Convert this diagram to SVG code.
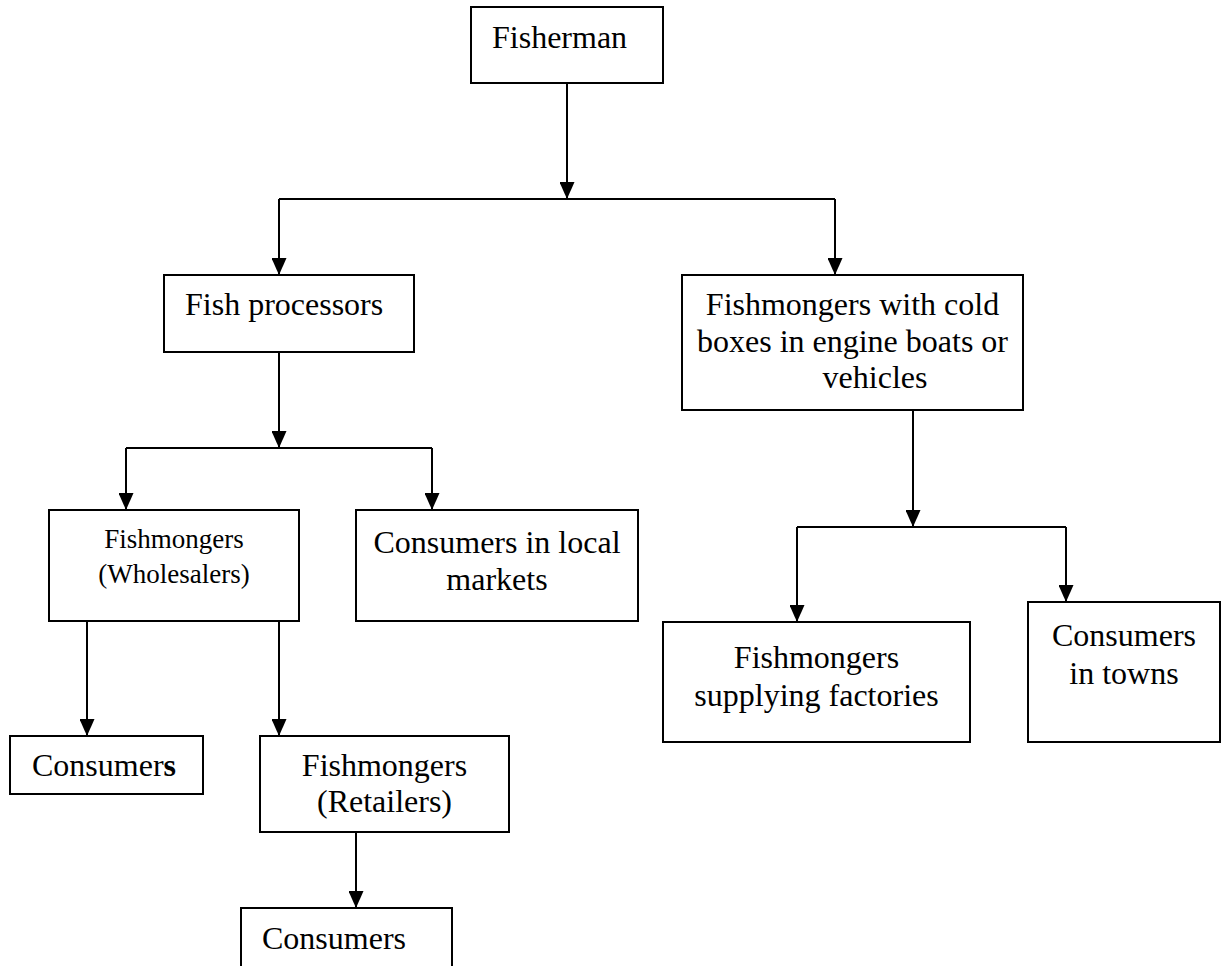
<svg xmlns="http://www.w3.org/2000/svg" width="1222" height="966" viewBox="0 0 1222 966">
  <style>
    .box { fill: #ffffff; stroke: #000000; stroke-width: 2; }
    .lbl { font-family: "Liberation Serif", "Times New Roman", serif; font-size: 32px; fill: #000000; }
    .sm { font-size: 27px; }
    .mid { text-anchor: middle; }
    .wire { fill: none; stroke: #000000; stroke-width: 2; }
    .arr { marker-end: url(#head); }
  </style>
  <defs>
    <marker id="head" viewBox="0 0 17 15" refX="17" refY="7.5" markerWidth="17" markerHeight="15" markerUnits="userSpaceOnUse" orient="auto">
      <path d="M0,0 L17,7.5 L0,15 z" fill="#000000"/>
    </marker>
  </defs>

  <!-- connectors -->
  <g id="connectors">
    <path class="wire arr" d="M567,83 V199"/>
    <path class="wire" d="M279,199 H835"/>
    <path class="wire arr" d="M279,199 V275"/>
    <path class="wire arr" d="M835,199 V275"/>

    <path class="wire arr" d="M279,352 V448"/>
    <path class="wire" d="M126,448 H432"/>
    <path class="wire arr" d="M126,448 V510"/>
    <path class="wire arr" d="M432,448 V510"/>

    <path class="wire arr" d="M913,410 V527"/>
    <path class="wire" d="M797,527 H1066"/>
    <path class="wire arr" d="M797,527 V622"/>
    <path class="wire arr" d="M1066,527 V602"/>

    <path class="wire arr" d="M87,621 V736"/>
    <path class="wire arr" d="M279,621 V736"/>

    <path class="wire arr" d="M356,832 V908"/>
  </g>

  <!-- nodes -->
  <g id="fisherman">
    <rect class="box" x="471" y="7" width="192" height="76"/>
    <text class="lbl" x="492" y="48">Fisherman</text>
  </g>

  <g id="fish-processors">
    <rect class="box" x="164" y="275" width="250" height="77"/>
    <text class="lbl" x="185" y="315">Fish processors</text>
  </g>

  <g id="cold-box-fishmongers">
    <rect class="box" x="682" y="275" width="341" height="135"/>
    <text class="lbl mid" x="852.5" y="315">Fishmongers with cold</text>
    <text class="lbl mid" x="852.5" y="352">boxes in engine boats or</text>
    <text class="lbl mid" x="875" y="388">vehicles</text>
  </g>

  <g id="wholesalers">
    <rect class="box" x="49" y="510" width="250" height="111"/>
    <text class="lbl sm mid" x="174" y="548">Fishmongers</text>
    <text class="lbl sm mid" x="174" y="583">(Wholesalers)</text>
  </g>

  <g id="local-markets">
    <rect class="box" x="356" y="510" width="282" height="111"/>
    <text class="lbl mid" x="497" y="553">Consumers in local</text>
    <text class="lbl mid" x="497" y="590">markets</text>
  </g>

  <g id="factory-suppliers">
    <rect class="box" x="663" y="622" width="307" height="120"/>
    <text class="lbl mid" x="816.5" y="668">Fishmongers</text>
    <text class="lbl mid" x="816.5" y="706">supplying factories</text>
  </g>

  <g id="town-consumers">
    <rect class="box" x="1028" y="602" width="192" height="140"/>
    <text class="lbl mid" x="1124" y="646">Consumers</text>
    <text class="lbl mid" x="1124" y="684">in towns</text>
  </g>

  <g id="consumers-direct">
    <rect class="box" x="10" y="736" width="193" height="58"/>
    <text class="lbl" x="32" y="776">Consumer<tspan font-weight="bold">s</tspan></text>
  </g>

  <g id="retailers">
    <rect class="box" x="260" y="736" width="249" height="96"/>
    <text class="lbl mid" x="384.5" y="776">Fishmongers</text>
    <text class="lbl mid" x="384.5" y="812">(Retailers)</text>
  </g>

  <g id="consumers-retail">
    <rect class="box" x="241" y="908" width="211" height="70"/>
    <text class="lbl" x="262" y="949">Consumers</text>
  </g>
</svg>
